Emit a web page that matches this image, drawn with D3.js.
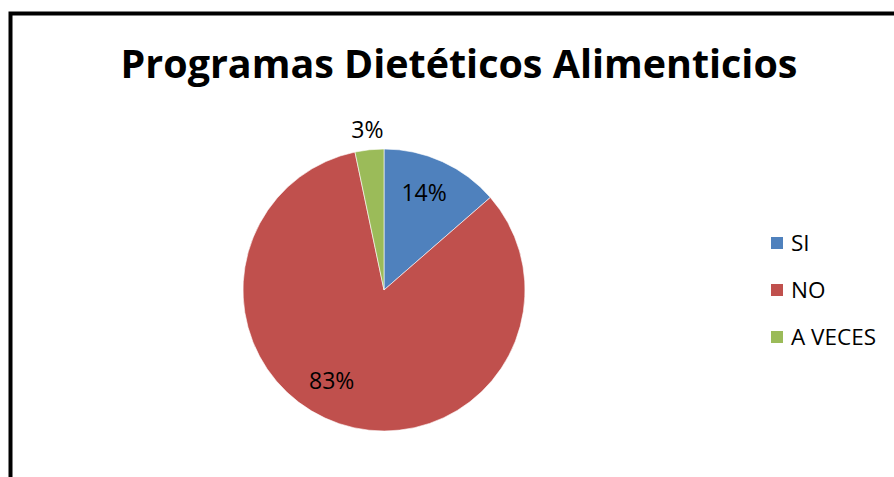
<!DOCTYPE html>
<html><head><meta charset="utf-8">
<script src="https://cdn.jsdelivr.net/npm/d3@7"></script>
<style>html,body{margin:0;padding:0;background:#fff;overflow:hidden}</style>
</head><body>
<svg id="c" width="894" height="477"></svg>
<script>
const title = "Programas Dietéticos Alimenticios";
const categories = ["SI", "NO", "A VECES"];
const values = [13.6, 83.1, 3.3];
const colors = ["#4F81BD", "#C0504D", "#9BBB59"];

const svg = d3.select("#c");
const font = "'Open Sans', 'Noto Sans', sans-serif";

// outer frame (cut off at right/bottom)
svg.append("rect").attr("x", 10.5).attr("y", 13.5).attr("width", 1000).attr("height", 1000)
  .attr("fill", "#fff").attr("stroke", "#000").attr("stroke-width", 4);

// title
const t = svg.append("text").attr("x", 459).attr("y", 78).attr("text-anchor", "middle")
  .attr("font-family", font).attr("font-weight", "bold").attr("font-size", 40)
  .attr("fill", "#000").text(title);
const tw = t.node().getComputedTextLength();
t.attr("font-size", 40 * 677 / tw);

// pie
const cx = 384, cy = 290, r = 141;
const color = d3.scaleOrdinal().domain(categories).range(colors);
const pie = d3.pie().sort(null).value(d => d.v);
const data = categories.map((c, i) => ({c, v: values[i]}));
const arcs = pie(data);
const arc = d3.arc().innerRadius(0).outerRadius(r);
const g = svg.append("g").attr("transform", `translate(${cx},${cy})`);
g.selectAll("path").data(arcs).join("path")
  .attr("d", arc).attr("fill", d => color(d.data.c))
  .attr("stroke", "#fff").attr("stroke-width", 0.6);

const total = d3.sum(values);
const fmt = d => Math.round(d.data.v / total * 100) + "%";
// label placement (Excel best-fit look): inside for big slices, outside for small
const labelArcIn = d3.arc().innerRadius(r * 0.72).outerRadius(r * 0.72);
const labelArcOut = d3.arc().innerRadius(r * 1.14).outerRadius(r * 1.14);
const nudge = [[-2, -5], [-20, -5], [0, 0]];
g.selectAll("text.lbl").data(arcs).join("text").attr("class", "lbl")
  .attr("transform", (d, i) => {
    const p = (d.endAngle - d.startAngle) < 0.3 ? labelArcOut.centroid(d) : labelArcIn.centroid(d);
    return `translate(${p[0] + nudge[i][0]},${p[1] + nudge[i][1]})`;
  })
  .attr("text-anchor", "middle").attr("dy", "0.35em")
  .attr("font-family", font).attr("font-size", 23).attr("fill", "#000")
  .text(fmt);

// legend
const ly = d3.scalePoint().domain(categories).range([243, 337]);
const lg = svg.append("g");
lg.selectAll("rect").data(categories).join("rect")
  .attr("x", 771).attr("y", d => ly(d) - 6).attr("width", 12).attr("height", 12)
  .attr("fill", d => color(d));
lg.selectAll("text").data(categories).join("text")
  .attr("x", 791).attr("y", d => ly(d)).attr("dy", "0.35em")
  .attr("font-family", font).attr("font-size", 22.5).attr("fill", "#000")
  .text(d => d);
</script>
</body></html>
